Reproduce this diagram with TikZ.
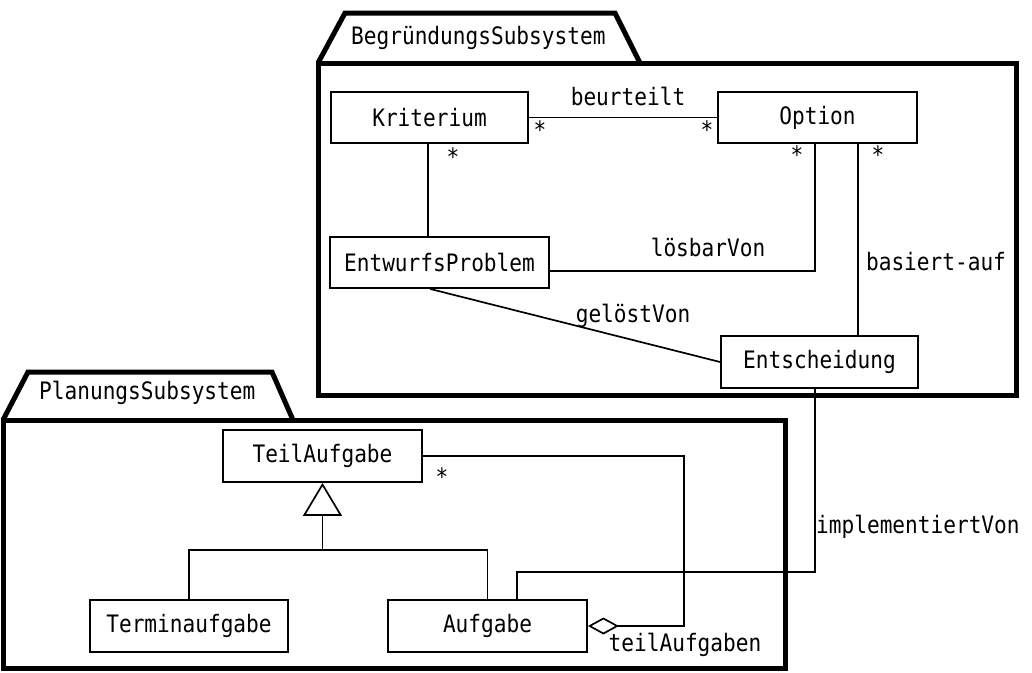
\documentclass[tikz,border=0pt]{standalone}
\usepackage{fontspec}
\newfontfamily\umlfont[FakeStretch=0.88]{DejaVu Sans Mono}
\usetikzlibrary{arrows.meta}
\tikzset{
  umlbox/.style={draw, line width=1.8pt, inner sep=0pt, font=\umlfont\fontsize{24}{28}\selectfont},
  lbl/.style={inner sep=0pt, font=\umlfont\fontsize{24}{28}\selectfont},
  conn/.style={line width=1.7pt},
  pkg/.style={line width=5pt, line join=miter},
  gen/.style={line width=1.7pt, -{Triangle[open, length=33pt, width=39pt, line width=1.7pt]}},
  agg/.style={line width=1.7pt, {Diamond[open, length=31pt, width=17pt, line width=1.7pt]}-},
}
\begin{document}
\begin{tikzpicture}[x=1pt, y=-1pt]
\useasboundingbox (0,0) rectangle (1032,672);
% packages
\draw[pkg] (318,63) rectangle (1016,395);
\draw[pkg] (318,63) -- (345,13) -- (615,13) -- (640,63);
\draw[pkg] (3,420) rectangle (785,668);
\draw[pkg] (3,420) -- (28,372) -- (272,372) -- (293,420);
\node[lbl, anchor=west] (pb) at (351,38) {BegründungsSubsystem};
\node[lbl, anchor=west] (pp) at (39,393) {PlanungsSubsystem};
% classes
\node[umlbox, minimum width=197pt, minimum height=51pt] (krit) at (429.5,117.5) {Kriterium};
\node[umlbox, minimum width=199pt, minimum height=51pt] (opt) at (817.5,117.5) {Option};
\node[umlbox, minimum width=219pt, minimum height=51pt] (ep) at (439.5,262.5) {EntwurfsProblem};
\node[umlbox, minimum width=197pt, minimum height=52pt] (ent) at (819.5,362) {Entscheidung};
\node[umlbox, minimum width=199pt, minimum height=52pt] (ta) at (322.5,456) {TeilAufgabe};
\node[umlbox, minimum width=198pt, minimum height=52pt] (term) at (189,626) {Terminaufgabe};
\node[umlbox, minimum width=199pt, minimum height=52pt] (auf) at (487.5,626) {Aufgabe};
% associations
\draw[conn] (krit.east) -- (opt.west);
\draw[conn] ([xshift=-1.5pt]krit.south) -- ([xshift=-1.5pt]krit.south |- ep.north);
\draw[conn] ([yshift=-8.5pt]ep.east) -| ([xshift=-2.5pt]opt.south);
\draw[conn] ([xshift=40.5pt]opt.south) -- ([xshift=40.5pt]opt.south |- ent.north);
\draw[conn] ([xshift=-9.5pt]ep.south) -- (ent.west);
\draw[conn] ([xshift=-4.5pt]ent.south) |- ([xshift=29.5pt, yshift=27pt]auf.north) -- ([xshift=29.5pt]auf.north);
% generalization
\coordinate (g) at (322.5,550);
\draw[conn] (term.north) |- (g) -| (auf.north);
\draw[gen] (g) -- (ta.south);
% aggregation
\draw[agg] (auf.east) -- ++(96,0) |- (ta.east);
% labels
\node[lbl] (l1) at (628,96) {beurteilt};
\node[lbl] (l2) at (708,247) {lösbarVon};
\node[lbl] (l3) at (936,262) {basiert-auf};
\node[lbl] (l4) at (633,316) {gelöstVon};
\node[lbl, anchor=west] (l5) at (816,527) {implementiertVon};
\node[lbl] (l6) at (685,645) {teilAufgaben};
\node[lbl] (s1) at (540,130) {*};
\node[lbl] (s2) at (707,130) {*};
\node[lbl] (s3) at (453,157) {*};
\node[lbl] (s4) at (797,155) {*};
\node[lbl] (s5) at (878,155) {*};
\node[lbl] (s6) at (442,477) {*};
\end{tikzpicture}
\end{document}
